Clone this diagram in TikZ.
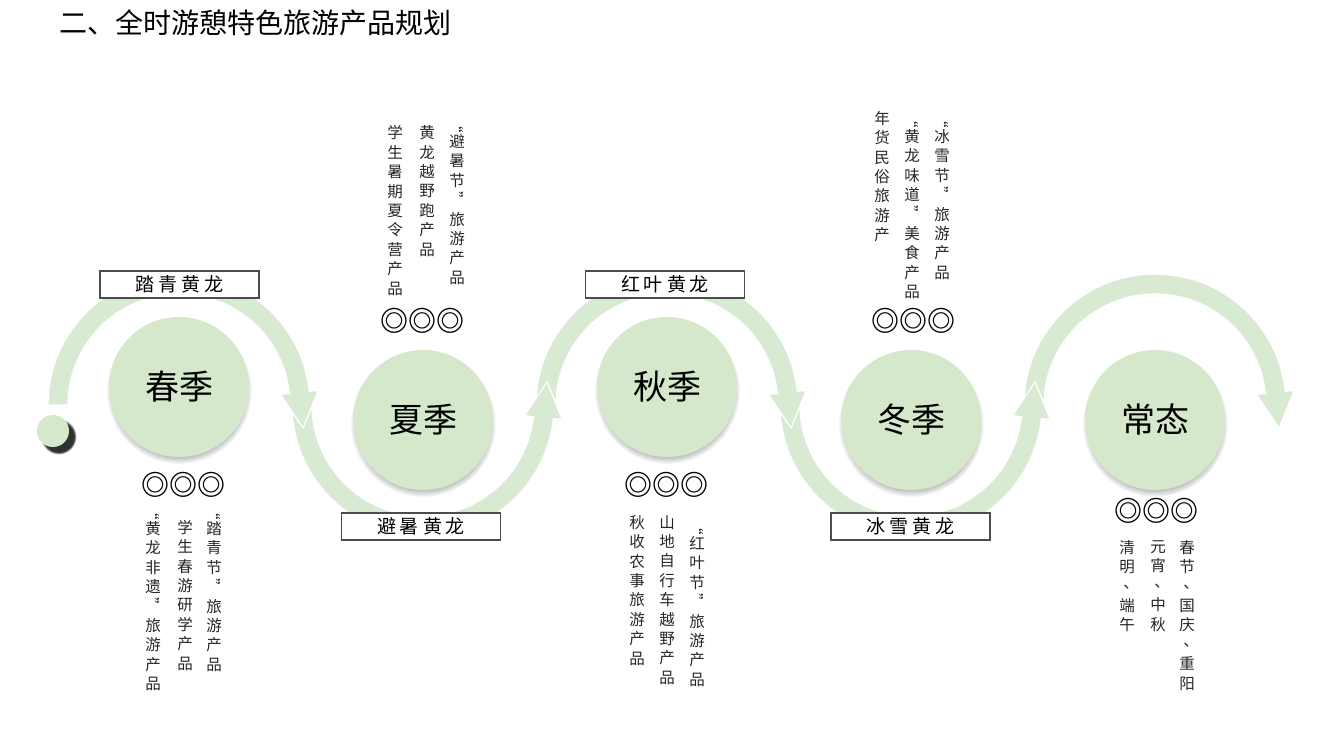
\documentclass[tikz,border=0pt]{standalone}
\usepackage{fontspec}
\setmainfont{Noto Sans CJK SC}
\usepackage{graphicx}
\usetikzlibrary{calc,shadows,fadings}
\definecolor{arcgreen}{RGB}{216,234,210}
\definecolor{circgreen}{RGB}{213,232,203}
\newcommand{\oqv}{\rotatebox[origin=c]{-90}{“}}
\newcommand{\cqv}{\rotatebox[origin=c]{-90}{”}}
\newcommand{\vph}{\vphantom{国}}
\newcommand{\vcm}{\makebox[15.5pt][l]{\kern 4pt\raisebox{4pt}{、}}}
\newcommand{\upseg}[1]{%
  \filldraw[band] ($(#1)+(180:131pt)$) arc[start angle=180,end angle=6,radius=131pt]
  -- ($(#1)+(6:140pt)$) -- ($(#1)+(6:121pt)+(-84:36pt)$) -- ($(#1)+(6:102pt)$)
  -- ($(#1)+(6:111pt)$) arc[start angle=6,end angle=180,radius=111pt] -- cycle;}
\newcommand{\downseg}[1]{%
  \filldraw[band] ($(#1)+(180:131pt)$) arc[start angle=180,end angle=354,radius=131pt]
  -- ($(#1)+(354:140pt)$) -- ($(#1)+(354:121pt)+(84:36pt)$) -- ($(#1)+(354:102pt)$)
  -- ($(#1)+(354:111pt)$) arc[start angle=354,end angle=180,radius=111pt] -- cycle;}
\begin{document}
\begin{tikzpicture}[x=1pt,y=1pt,
  band/.style={fill=arcgreen, draw=white, line width=1.3pt, line join=miter},
  season/.style={circle, minimum size=140pt, inner sep=0pt, fill=circgreen,
    font=\fontsize{34}{40}\selectfont,
    circular drop shadow={shadow xshift=0pt, shadow yshift=-4pt, shadow scale=1.04, opacity=0.75}},
  lbox/.style={draw=black!70, line width=1.3pt, fill=white, minimum width=159pt,
    minimum height=27pt, inner sep=0pt, font=\fontsize{19}{22}\selectfont},
  rings/.style={inner sep=0pt, font=\fontsize{28}{30}\selectfont\bfseries},
  vcol/.style={align=center, anchor=north, inner sep=0pt,
    font=\fontsize{15.5}{19.4}\selectfont, text=black!85}]
\useasboundingbox (0,0) rectangle (1319,741);

% title
\node[anchor=west, inner sep=0pt, font=\fontsize{28}{32}\selectfont] (title) at (59,718) {二、全时游憩特色旅游产品规划};

% arc centres
\coordinate (c1) at (179,336);
\coordinate (c2) at (423,336);
\coordinate (c3) at (667,336);
\coordinate (c4) at (911,336);
\coordinate (c5) at (1155,336);

\upseg{c5}
\downseg{c4}
\upseg{c3}
\downseg{c2}
\upseg{c1}

% start dot
\node[circle, minimum size=32pt, inner sep=0pt, fill=circgreen,
  circular drop shadow={shadow xshift=5pt, shadow yshift=-5pt, shadow scale=1.12, fill=black!90, opacity=0.9}] (start) at (53,310) {};

% label boxes
\node[lbox] (l1) at (179.5,456.5) {踏\hspace{4pt}青\hspace{4pt}黄\hspace{4pt}龙};
\node[lbox] (l2) at (421,214.5) {避\hspace{4pt}暑\hspace{4pt}黄\hspace{4pt}龙};
\node[lbox] (l3) at (665,456.5) {红\hspace{4pt}叶\hspace{4pt}黄\hspace{4pt}龙};
\node[lbox] (l4) at (910.5,214.5) {冰\hspace{4pt}雪\hspace{4pt}黄\hspace{4pt}龙};

% season circles
\node[season] (spring) at (179,354) {春季};
\node[season] (summer) at (423,321) {夏季};
\node[season] (autumn) at (667,354) {秋季};
\node[season] (winter) at (911,321) {冬季};
\node[season] (normal) at (1155,321) {常态};

% ring marks
\node[rings] (r1) at (183,256) {◎◎◎};
\node[rings] (r2) at (422,420) {◎◎◎};
\node[rings] (r3) at (666,256) {◎◎◎};
\node[rings] (r4) at (913,420) {◎◎◎};
\node[rings] (r5) at (1156,230) {◎◎◎};

% spring columns
\node[vcol] (t1a) at (214,236.4) {\vph\oqv\\[-4pt]踏\\青\\节\\\cqv\\旅\\游\\产\\品};
\node[vcol] (t1b) at (185,221) {\vph 学\\生\\春\\游\\研\\学\\产\\品};
\node[vcol] (t1c) at (153,236.4) {\vph\oqv\\[-4pt]黄\\龙\\非\\遗\\\cqv\\旅\\游\\产\\品};

% summer columns
\node[vcol] (t2a) at (457,623.4) {\vph\oqv\\[-4pt]避\\暑\\节\\\cqv\\旅\\游\\产\\品};
\node[vcol] (t2b) at (427,615.5) {\vph 黄\\龙\\越\\野\\跑\\产\\品};
\node[vcol] (t2c) at (395,615.5) {\vph 学\\生\\暑\\期\\夏\\令\\营\\产\\品};

% autumn columns
\node[vcol] (t3a) at (697,221.4) {\vph\oqv\\[-4pt]红\\叶\\节\\\cqv\\旅\\游\\产\\品};
\node[vcol] (t3b) at (667,226) {\vph 山\\地\\自\\行\\车\\越\\野\\产\\品};
\node[vcol] (t3c) at (637,226) {\vph 秋\\收\\农\\事\\旅\\游\\产\\品};

% winter columns
\node[vcol] (t4a) at (942,628.4) {\vph\oqv\\[-4pt]冰\\雪\\节\\\cqv\\旅\\游\\产\\品};
\node[vcol] (t4b) at (912,628.4) {\vph\oqv\\[-4pt]黄\\龙\\味\\道\\\cqv\\美\\食\\产\\品};
\node[vcol] (t4c) at (882,630) {\vph 年\\货\\民\\俗\\旅\\游\\产};

% normal columns
\node[vcol] (t5a) at (1187,201) {\vph 春\\节\\\vcm\\国\\庆\\\vcm\\重\\阳};
\node[vcol] (t5b) at (1158,201) {\vph 元\\宵\\\vcm\\中\\秋};
\node[vcol] (t5c) at (1127,201) {\vph 清\\明\\\vcm\\端\\午};
\end{tikzpicture}
\end{document}
